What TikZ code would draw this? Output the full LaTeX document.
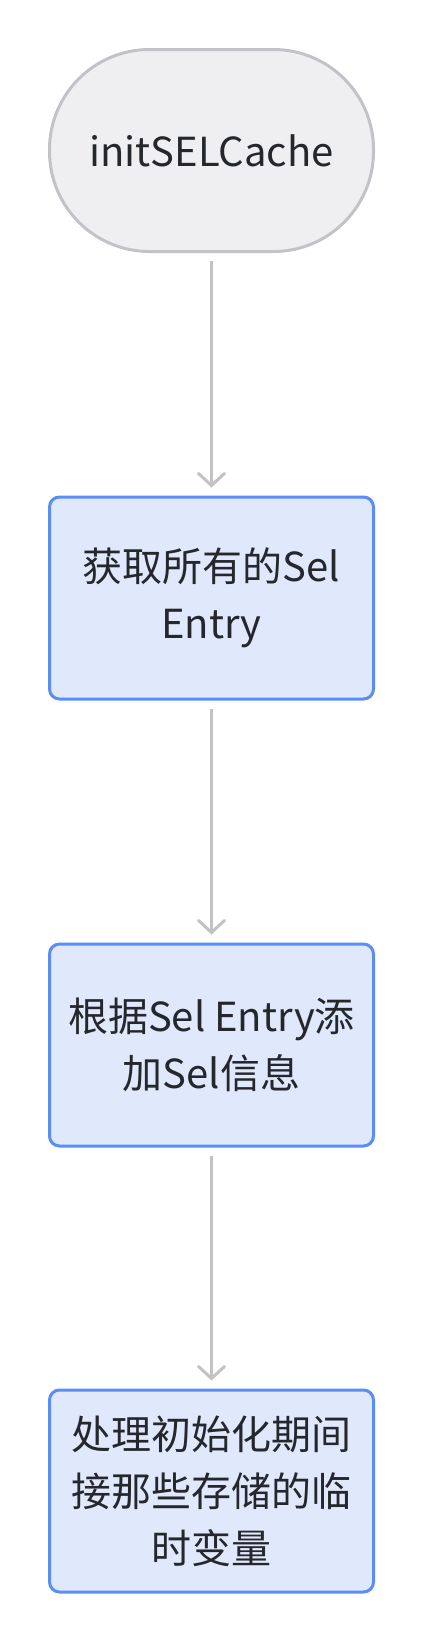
\documentclass[tikz,border=0pt]{standalone}
\usepackage{fontspec}
\setmainfont{Noto Sans CJK SC}
\usetikzlibrary{arrows.meta}
\definecolor{stfill}{HTML}{EFEFF1}
\definecolor{stline}{HTML}{C1C3C8}
\definecolor{bxfill}{HTML}{E0E8FC}
\definecolor{bxline}{HTML}{5A8DF6}
\definecolor{txt}{HTML}{24272C}
\definecolor{arr}{HTML}{C2C2C4}
\tikzset{
  startnode/.style={draw=stline, fill=stfill, line width=3pt, minimum width=324pt, minimum height=202pt, rounded corners=100pt, inner sep=0pt, text=txt, font=\fontsize{40}{57}\selectfont, align=center},
  procbox/.style={draw=bxline, fill=bxfill, line width=3pt, minimum width=324pt, minimum height=202pt, rounded corners=10pt, inner sep=0pt, text=txt, font=\fontsize{40}{57}\selectfont, align=center},
  flow/.style={draw=arr, line width=3pt, -{Straight Barb[length=12pt,width=26pt,line cap=round]}, shorten <=8pt, shorten >=8pt}
}
\begin{document}
\begin{tikzpicture}[x=1pt,y=1pt]
\useasboundingbox (0,0) rectangle (426,-1644);
\node[startnode] (n1) at (211.5,-150.5) {initSELCache};
\node[procbox] (n2) at (211.5,-598) {获取所有的Sel\\Entry};
\node[procbox] (n3) at (211.5,-1045) {根据Sel Entry添\\加Sel信息};
\node[procbox] (n4) at (211.5,-1491) {处理初始化期间\\接那些存储的临\\时变量};
\draw[flow] (n1) -- (n2);
\draw[flow] (n2) -- (n3);
\draw[flow] (n3) -- (n4);
\end{tikzpicture}
\end{document}
